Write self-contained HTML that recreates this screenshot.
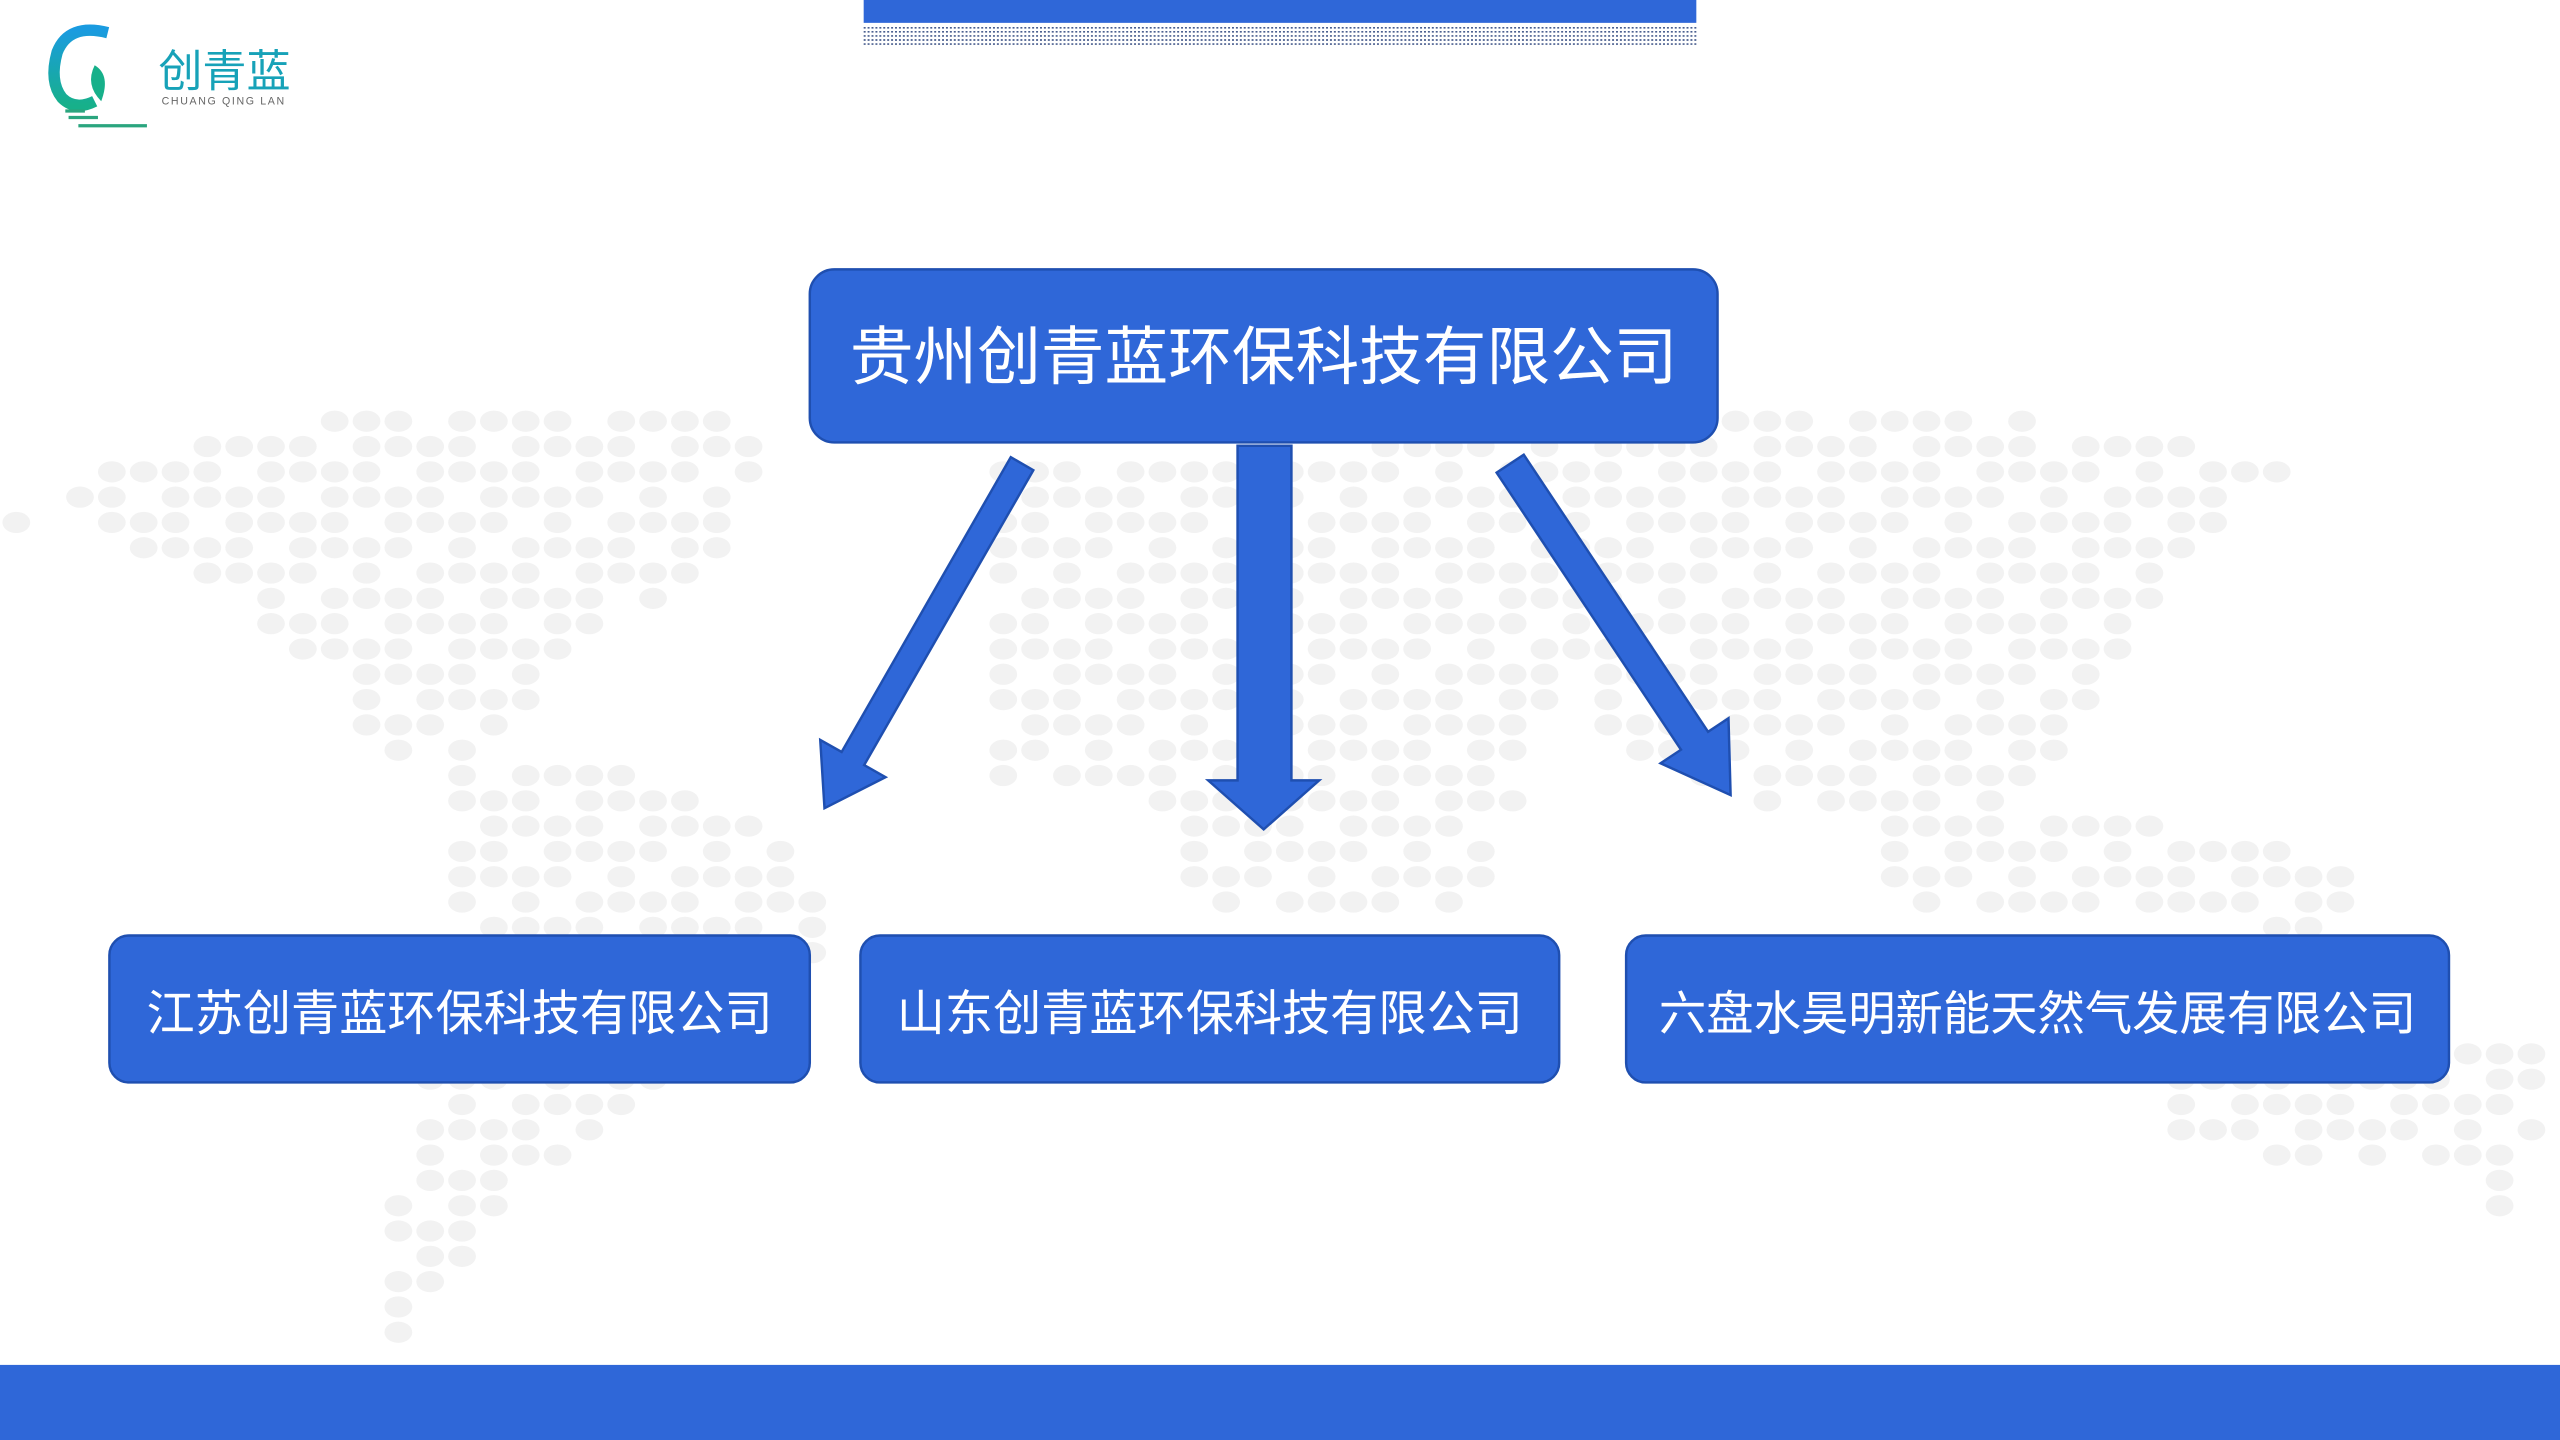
<!DOCTYPE html>
<html><head><meta charset="utf-8"><style>
html,body{margin:0;padding:0;background:#fff;}
svg{display:block;}
</style></head><body>
<svg id="s" width="2560" height="1440" viewBox="0 0 1568 882" xmlns="http://www.w3.org/2000/svg">
<defs>
<linearGradient id="g" x1="0" y1="0" x2="0" y2="1"><stop offset="0" stop-color="#1a9be0"/><stop offset="1" stop-color="#17b08a"/></linearGradient>
</defs>
<g id="dots" fill="#f2f2f2"></g>
<rect x="529" y="0" width="510" height="14" fill="#2f67d8"/>
<g stroke="#4a5f8f" stroke-width="1" stroke-dasharray="1.2 1.2">
<line x1="529" y1="17" x2="1039" y2="17"/><line x1="529" y1="19.5" x2="1039" y2="19.5"/><line x1="529" y1="22" x2="1039" y2="22"/><line x1="529" y1="24.5" x2="1039" y2="24.5"/><line x1="529" y1="27" x2="1039" y2="27"/>
</g>
<path d="M66 20 Q42 14 35 32 Q30 50 38 60 Q46 68 58 62" fill="none" stroke="url(#g)" stroke-width="7"/>
<path d="M58 40 Q68 46 62 62 Q52 52 58 40Z" fill="#17b08a"/>
<g stroke="#2aa57e" stroke-width="2"><line x1="40" y1="68" x2="52" y2="68"/><line x1="42" y1="72" x2="60" y2="72"/><line x1="48" y1="77" x2="90" y2="77"/></g>
<text x="97" y="53" font-family="'Noto Sans CJK SC',sans-serif" font-size="27" fill="#17a2b8">创青蓝</text>
<text x="99" y="64" font-family="'Liberation Sans',sans-serif" font-size="6.5" fill="#666" letter-spacing="1">CHUANG QING LAN</text>
<g fill="#2f67d8" stroke="#1f4fb0" stroke-width="1.5">
<rect x="496" y="165" width="556" height="106" rx="15"/>
<rect x="67" y="573" width="429" height="90" rx="12"/>
<rect x="527" y="573" width="428" height="90" rx="12"/>
<rect x="996" y="573" width="504" height="90" rx="12"/>
<polygon points="632.9,288 529.3,468.6 542.4,476 505,495 502.4,453.2 515.5,460.6 619.1,280"/>
<polygon points="758,273 791,273 791,478 808,478 774,508 740,478 758,478"/>
<polygon points="916.7,289.5 1029.6,459.2 1017.1,467.5 1060,487 1058.7,439.9 1046.2,448.2 933.3,278.5"/>
</g>
<g font-family="'Liberation Sans','Noto Sans CJK SC',sans-serif" fill="#fff" text-anchor="middle">
<text x="774" y="232" font-size="39">贵州创青蓝环保科技有限公司</text>
<text x="281.5" y="631" font-size="29.5">江苏创青蓝环保科技有限公司</text>
<text x="741" y="631" font-size="29.5">山东创青蓝环保科技有限公司</text>
<text x="1248" y="631" font-size="29">六盘水昊明新能天然气发展有限公司</text>
</g>
<rect x="0" y="836" width="1568" height="46" fill="#2f67d8"/>
</svg>
<script>
(function(){
var regs=[
[[30,300],[120,270],[250,250],[440,245],[470,280],[440,340],[380,380],[330,420],[300,460],[240,460],[200,420],[160,380],[60,330]],
[[280,470],[400,470],[520,540],[480,620],[380,680],[300,760],[240,830],[220,800],[260,690],[270,560]],
[[610,280],[960,270],[960,420],[900,560],[740,560],[700,480],[610,480]],
[[960,260],[1200,250],[1410,280],[1350,330],[1300,400],[1260,470],[1200,520],[1100,500],[1000,460],[960,420]],
[[1150,500],[1430,510],[1440,570],[1160,560]],
[[1330,640],[1560,640],[1540,760],[1500,720],[1330,700]],
[[0,310],[40,310],[40,330],[0,330]]
];
function inside(p,poly){var c=false;for(var i=0,j=poly.length-1;i<poly.length;j=i++){var a=poly[i],b=poly[j];if(((a[1]>p[1])!=(b[1]>p[1]))&&(p[0]<(b[0]-a[0])*(p[1]-a[1])/(b[1]-a[1])+a[0]))c=!c;}return c;}
var g=document.getElementById('dots'),h='';
for(var y=258;y<840;y+=15.5){for(var x=10;x<1568;x+=19.5){
var ok=false;for(var r=0;r<regs.length;r++){if(inside([x,y],regs[r])){ok=true;break;}}
if(ok&&((x*7+y*3)%11>2))h+='<ellipse cx="'+x+'" cy="'+y+'" rx="8.5" ry="6.5"/>';}}
g.innerHTML=h;
})();
</script>
</body></html>
